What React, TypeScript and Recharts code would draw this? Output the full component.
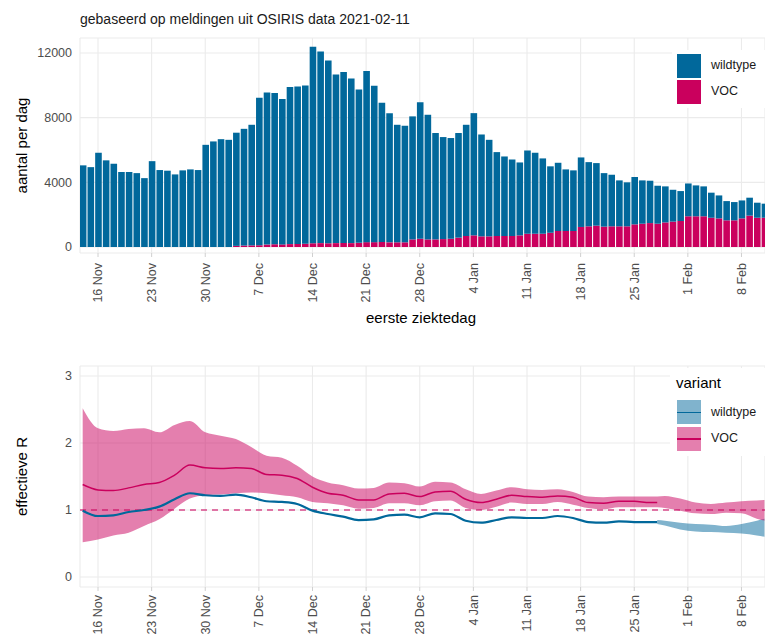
import React from 'react';
import { BarChart, Bar, ComposedChart, Area, Line, XAxis, YAxis, CartesianGrid, ReferenceLine } from 'recharts';

const FONT = '"Liberation Sans", Arial, Helvetica, sans-serif';
const BLUE = '#01689B';
const PINK = '#CA005D';
const GRID = '#EBEBEB';
const TICK = '#4D4D4D';

// dag 0 = 14 Nov 2020
const tickDays = [2, 9, 16, 23, 30, 37, 44, 51, 58, 65, 72, 79, 86];
const tickLabels = ['16 Nov', '23 Nov', '30 Nov', '7 Dec', '14 Dec', '21 Dec', '28 Dec', '4 Jan', '11 Jan', '18 Jan', '25 Jan', '1 Feb', '8 Feb'];

// totaal aantal per eerste ziektedag, 14 Nov t/m 11 Feb
const totalPerDay = [
  5050, 4940, 5830, 5360, 5150, 4640, 4640, 4570, 4260, 5310,
  4760, 4720, 4490, 4740, 4800, 4760, 6320, 6530, 6670, 6630,
  7070, 7310, 7560, 9230, 9560, 9520, 9150, 9890, 9930, 9990,
  12380, 12090, 11540, 10670, 10820, 10420, 9740, 10880, 9970, 8920,
  8280, 7560, 7500, 8080, 8960, 8180, 7050, 6800, 6740, 7050,
  7560, 8280, 6960, 6630, 5870, 5600, 5420, 5230, 5970, 5830,
  5480, 4990, 5210, 4800, 4740, 5540, 5250, 5190, 4570, 4470,
  4120, 4000, 4330, 4120, 4100, 3790, 3750, 3540, 3460, 3930,
  3810, 3750, 3360, 3190, 2840, 2780, 2880, 3050, 2740, 2680,
];

const vocPerDay = [
  0, 0, 0, 0, 0, 0, 0, 0, 0, 0,
  0, 0, 0, 0, 0, 0, 0, 0, 0, 0,
  70, 90, 100, 110, 150, 170, 160, 180, 190, 200,
  230, 240, 230, 240, 250, 240, 260, 300, 300, 310,
  290, 290, 290, 470, 510, 470, 470, 490, 510, 580,
  680, 720, 660, 660, 680, 680, 680, 720, 820, 820,
  820, 880, 990, 990, 990, 1240, 1280, 1320, 1260, 1280,
  1280, 1280, 1400, 1440, 1480, 1440, 1520, 1570, 1610, 1900,
  1900, 1900, 1810, 1770, 1650, 1650, 1770, 1940, 1810, 1810,
];

// effectieve R, per variant
const rDays = [0, 2, 4, 6, 8, 10, 12, 14, 16, 18, 20, 22, 24, 26, 28, 30, 32, 34, 36, 38, 40, 42, 44, 46, 48, 50, 52, 54, 56, 58, 60, 62, 64, 66, 68, 70, 72, 74, 75, 76, 78, 80, 82, 84, 86, 88, 89];

const rVoc = [1.38, 1.30, 1.29, 1.33, 1.38, 1.41, 1.52, 1.67, 1.63, 1.62, 1.63, 1.62, 1.53, 1.52, 1.47, 1.34, 1.25, 1.22, 1.15, 1.15, 1.24, 1.25, 1.20, 1.27, 1.28, 1.16, 1.11, 1.16, 1.22, 1.20, 1.19, 1.21, 1.19, 1.11, 1.10, 1.13, 1.13, 1.11, 1.11, null, null, null, null, null, null, null, null];
const rVocHigh = [2.52, 2.22, 2.18, 2.21, 2.22, 2.16, 2.27, 2.33, 2.16, 2.11, 2.06, 1.94, 1.81, 1.78, 1.66, 1.50, 1.41, 1.37, 1.32, 1.33, 1.41, 1.40, 1.35, 1.42, 1.41, 1.31, 1.24, 1.29, 1.34, 1.31, 1.30, 1.31, 1.27, 1.20, 1.19, 1.20, 1.20, 1.20, 1.20, 1.21, 1.17, 1.11, 1.09, 1.11, 1.13, 1.14, 1.15];
const rVocLow = [0.52, 0.56, 0.62, 0.66, 0.76, 0.86, 1.02, 1.17, 1.22, 1.23, 1.25, 1.26, 1.25, 1.22, 1.19, 1.12, 1.10, 1.07, 1.02, 1.03, 1.10, 1.10, 1.07, 1.13, 1.14, 1.03, 1.00, 1.05, 1.11, 1.09, 1.09, 1.12, 1.08, 1.03, 1.01, 1.04, 1.04, 1.04, 1.04, 1.03, 0.99, 0.95, 0.94, 0.96, 0.95, 0.87, 0.84];

const rWild = [0.99, 0.91, 0.92, 0.97, 1.00, 1.05, 1.16, 1.25, 1.22, 1.21, 1.23, 1.19, 1.13, 1.12, 1.09, 0.99, 0.94, 0.90, 0.85, 0.86, 0.92, 0.93, 0.89, 0.95, 0.94, 0.84, 0.81, 0.85, 0.89, 0.88, 0.88, 0.91, 0.88, 0.82, 0.81, 0.83, 0.82, 0.82, 0.82, null, null, null, null, null, null, null, null];
const rWildHigh = [null, null, null, null, null, null, null, null, null, null, null, null, null, null, null, null, null, null, null, null, null, null, null, null, null, null, null, null, null, null, null, null, null, null, null, null, null, null, 0.85, 0.84, 0.81, 0.79, 0.78, 0.76, 0.79, 0.84, 0.87];
const rWildLow = [null, null, null, null, null, null, null, null, null, null, null, null, null, null, null, null, null, null, null, null, null, null, null, null, null, null, null, null, null, null, null, null, null, null, null, null, null, null, 0.79, 0.77, 0.71, 0.68, 0.67, 0.66, 0.65, 0.62, 0.60];

const barData = totalPerDay.map((total, i) => ({
  day: i,
  voc: vocPerDay[i],
  wildtype: total - vocPerDay[i],
}));

const rData = rDays.map((day, i) => ({
  day,
  voc: rVoc[i],
  vocBand: [rVocLow[i], rVocHigh[i]],
  wildtype: rWild[i],
  wildBand: rWildLow[i] == null ? null : [rWildLow[i], rWildHigh[i]],
}));

const X_DOMAIN: [number, number] = [-0.35, 89.07];

const DateTick = (props: any) => {
  const { x, y, payload } = props;
  const label = tickLabels[tickDays.indexOf(payload.value)];
  return (
    <g transform={`translate(${x},${y})`}>
      <text transform="rotate(-90)" textAnchor="end" dy="0.35em" fontSize={12.5} fill={TICK} fontFamily={FONT}>
        {label}
      </text>
    </g>
  );
};

const axisTitle = { fontSize: 15, fill: '#000', fontFamily: FONT };

export default function App() {
  return (
    <div style={{ position: 'absolute', left: 0, top: 0, width: 765, height: 636, overflow: 'hidden', background: '#fff', fontFamily: FONT }}>
      <div style={{ position: 'absolute', left: 80, top: 11, fontSize: 14, lineHeight: '16px', color: '#1a1a1a' }}>
        gebaseerd op meldingen uit OSIRIS data 2021-02-11
      </div>

      <div style={{ position: 'absolute', left: 0, top: 0 }}>
        <BarChart width={765} height={340} data={barData} margin={{ top: 38, right: 0, bottom: 0, left: 0 }}>
          <CartesianGrid stroke={GRID} strokeWidth={1.1} />
          <XAxis
            dataKey="day"
            type="number"
            domain={X_DOMAIN}
            allowDataOverflow
            ticks={tickDays}
            height={87}
            axisLine={false}
            tickLine={{ stroke: '#D0D0D0' }}
            tickSize={4}
            tickMargin={6}
            tick={<DateTick />}
          />
          <YAxis
            width={80}
            domain={[-371, 12928]}
            allowDataOverflow
            ticks={[0, 4000, 8000, 12000]}
            axisLine={false}
            tickLine={false}
            tick={{ fontSize: 12.5, fill: TICK, fontFamily: FONT }}
            label={{ value: 'aantal per dag', angle: -90, position: 'center', dx: -18, style: axisTitle }}
          />
          <Bar dataKey="voc" stackId="a" fill={PINK} barSize={6.6} isAnimationActive={false} />
          <Bar dataKey="wildtype" stackId="a" fill={BLUE} barSize={6.6} isAnimationActive={false} />
        </BarChart>
      </div>

      <div style={{ position: 'absolute', left: 300, width: 242, top: 309, textAlign: 'center', fontSize: 15, lineHeight: '18px', color: '#000' }}>
        eerste ziektedag
      </div>

      {/* legenda boven */}
      <div style={{ position: 'absolute', left: 672, top: 50, width: 93, height: 58, background: '#fff' }}>
        <div style={{ position: 'absolute', left: 5, top: 4, width: 24, height: 23.5, background: BLUE }} />
        <div style={{ position: 'absolute', left: 5, top: 30, width: 24, height: 23.5, background: PINK }} />
        <div style={{ position: 'absolute', left: 39, top: 8, fontSize: 12.5, lineHeight: '15px', color: '#1a1a1a' }}>wildtype</div>
        <div style={{ position: 'absolute', left: 39, top: 34, fontSize: 12.5, lineHeight: '15px', color: '#1a1a1a' }}>VOC</div>
      </div>

      <div style={{ position: 'absolute', left: 0, top: 340 }}>
        <ComposedChart width={765} height={296} data={rData} margin={{ top: 26, right: 0, bottom: 0, left: 0 }}>
          <CartesianGrid stroke={GRID} strokeWidth={1.1} />
          <XAxis
            dataKey="day"
            type="number"
            domain={X_DOMAIN}
            allowDataOverflow
            ticks={tickDays}
            height={49}
            axisLine={false}
            tickLine={{ stroke: '#D0D0D0' }}
            tickSize={4}
            tickMargin={4}
            tick={<DateTick />}
          />
          <YAxis
            width={80}
            domain={[-0.15, 3.15]}
            allowDataOverflow
            ticks={[0, 1, 2, 3]}
            axisLine={false}
            tickLine={false}
            tick={{ fontSize: 12.5, fill: TICK, fontFamily: FONT }}
            label={{ value: 'effectieve R', angle: -90, position: 'center', dx: -18, style: axisTitle }}
          />
          <Area dataKey="wildBand" type="monotone" stroke="none" fill={BLUE} fillOpacity={0.5} connectNulls={false} isAnimationActive={false} />
          <Area dataKey="vocBand" type="monotone" stroke="none" fill={PINK} fillOpacity={0.5} isAnimationActive={false} />
          <ReferenceLine y={1} stroke={PINK} strokeOpacity={0.7} strokeWidth={1.5} strokeDasharray="6 5" />
          <Line dataKey="wildtype" type="monotone" stroke={BLUE} strokeWidth={2.2} dot={false} activeDot={false} connectNulls={false} isAnimationActive={false} />
          <Line dataKey="voc" type="monotone" stroke={PINK} strokeWidth={1.5} dot={false} activeDot={false} connectNulls={false} isAnimationActive={false} />
        </ComposedChart>
      </div>

      {/* legenda onder */}
      <div style={{ position: 'absolute', left: 670, top: 368, width: 95, height: 88, background: '#fff' }}>
        <div style={{ position: 'absolute', left: 6, top: 6, fontSize: 15, lineHeight: '18px', color: '#000' }}>variant</div>
        <div style={{ position: 'absolute', left: 7, top: 32, width: 24, height: 24, background: BLUE, opacity: 0.5 }} />
        <div style={{ position: 'absolute', left: 7, top: 43.5, width: 24, height: 1.5, background: BLUE }} />
        <div style={{ position: 'absolute', left: 7, top: 58.7, width: 24, height: 24, background: PINK, opacity: 0.5 }} />
        <div style={{ position: 'absolute', left: 7, top: 70, width: 24, height: 1.5, background: PINK }} />
        <div style={{ position: 'absolute', left: 41, top: 36.5, fontSize: 12.5, lineHeight: '15px', color: '#1a1a1a' }}>wildtype</div>
        <div style={{ position: 'absolute', left: 41, top: 63, fontSize: 12.5, lineHeight: '15px', color: '#1a1a1a' }}>VOC</div>
      </div>
    </div>
  );
}
